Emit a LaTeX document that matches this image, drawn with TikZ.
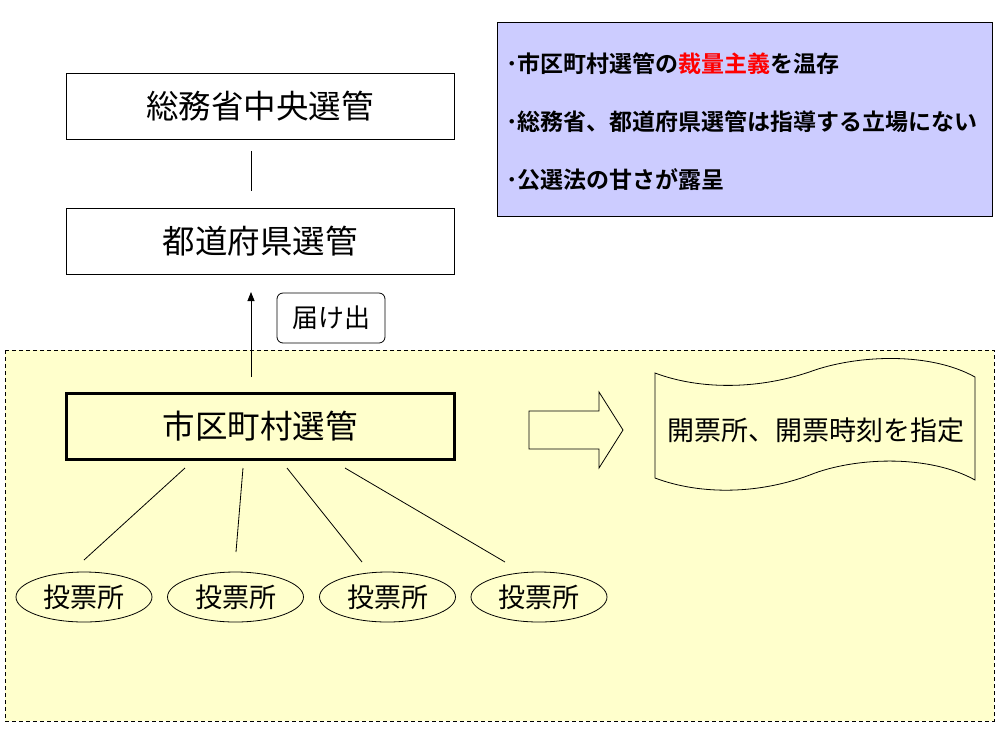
\documentclass[tikz,border=0pt]{standalone}
\usepackage{fontspec}
\newfontfamily\jp{Noto Sans CJK JP}[BoldFont={Noto Sans CJK JP Bold}]
\usetikzlibrary{arrows.meta,shapes.geometric,calc}
\definecolor{lav}{RGB}{204,204,255}
\definecolor{pale}{RGB}{255,255,204}
\tikzset{
  org/.style={draw=black,line width=0.9pt,minimum width=388pt,minimum height=66pt,inner sep=0pt,font=\jp\fontsize{32.5}{38}\selectfont},
  poll/.style={draw=black,line width=0.8pt,ellipse,minimum width=136pt,minimum height=50pt,inner sep=0pt,font=\jp\fontsize{27}{32}\selectfont},
  thin/.style={draw=black,line width=0.8pt},
  bul/.style={anchor=west,inner sep=0pt,font=\jp\bfseries\fontsize{23}{28}\selectfont}
}
\begin{document}
\begin{tikzpicture}[x=1pt,y=-1pt]
\useasboundingbox (0,0) rectangle (1004,740);
\fill[white] (0,0) rectangle (1004,740);
% yellow dashed region
\draw[fill=pale,line width=0.8pt,dash pattern=on 4pt off 3pt] (5,350) rectangle (994,721);
% info box
\draw[fill=lav,line width=0.9pt] (497,22) rectangle (992,216);
\node[bul] (l1) at (506,64) {･市区町村選管の\textcolor{red}{裁量主義}を温存};
\node[bul] (l2) at (506,122) {･総務省、都道府県選管は指導する立場にない};
\node[bul] (l3) at (506,180) {･公選法の甘さが露呈};
% hierarchy
\node[org] (b1) at (260,106.5) {総務省中央選管};
\node[org] (b2) at (260,241.5) {都道府県選管};
\node[org,line width=3pt] (sk) at (260,426.5) {市区町村選管};
\draw[thin] (b1.south -| 251,0) ++(0,11) coordinate (v1) -- (251,191) coordinate (v2);
\coordinate (a1) at (251,377);
\coordinate (a2) at (251,292);
\draw[thin,-{Triangle[length=9pt,width=7pt]}] (a1) -- (a2);
\node[draw=black,line width=0.8pt,rounded corners=6pt,minimum width=108pt,minimum height=50pt,inner sep=0pt,font=\jp\fontsize{26}{30}\selectfont] (todoke) at (331,318) {届け出};
% polling places
\node[poll] (p1) at (84,597) {投票所};
\node[poll] (p2) at (235.5,597) {投票所};
\node[poll] (p3) at (387.5,597) {投票所};
\node[poll] (p4) at (539,597) {投票所};
\coordinate (s1) at (185,468); \coordinate (e1) at (84,560);
\coordinate (s2) at (243,468); \coordinate (e2) at (236,552);
\coordinate (s3) at (287,468); \coordinate (e3) at (362,562);
\coordinate (s4) at (345,468); \coordinate (e4) at (505,562);
\draw[thin] (s1) -- (e1);
\draw[thin] (s2) -- (e2);
\draw[thin] (s3) -- (e3);
\draw[thin] (s4) -- (e4);
% block arrow
\draw[thin,fill=pale] (529,411) -- (599,411) -- (599,392) -- (623,430) -- (599,468) -- (599,449) -- (529,449) -- cycle;
% wave shape
\draw[thin,fill=pale] (655,373) .. controls (700,390) and (760,390) .. (815,370) .. controls (860,355) and (930,352) .. (975,377)
  -- (975,480) .. controls (930,455) and (860,457) .. (815,473) .. controls (760,495) and (700,495) .. (655,478) -- cycle;
\node[inner sep=0pt,font=\jp\fontsize{27}{33}\selectfont] (kaihyo) at (816,430) {開票所、開票時刻を指定};
\end{tikzpicture}
\end{document}
